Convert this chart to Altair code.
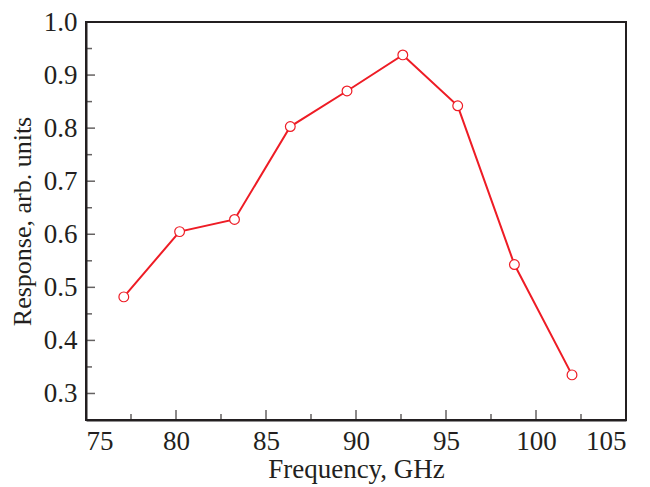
import altair as alt
import pandas as pd

freq = [77.1, 80.2, 83.25, 86.35, 89.5, 92.6, 95.65, 98.8, 102.0]
resp = [0.482, 0.605, 0.628, 0.803, 0.870, 0.938, 0.842, 0.543, 0.335]

x_major = [75, 80, 85, 90, 95, 100, 105]
x_minor = [77.5, 82.5, 87.5, 92.5, 97.5, 102.5]
y_major = [0.3, 0.4, 0.5, 0.6, 0.7, 0.8, 0.9, 1.0]
y_minor = [0.35, 0.45, 0.55, 0.65, 0.75, 0.85, 0.95]

RED = "#ee1c25"
INK = "#231f20"
FONT = "Liberation Serif"
FS = 27

df = pd.DataFrame({"f": freq, "r": resp})

xs = alt.Scale(domain=[75, 105], nice=False, zero=False)
ys = alt.Scale(domain=[0.25, 1.0], nice=False, zero=False)

xaxis = alt.Axis(values=x_major, format="d", ticks=False, tickSize=0, grid=False,
                 labelPadding=8, title="Frequency, GHz", titlePadding=2,
                 labelFontSize=FS, titleFontSize=FS)
yaxis = alt.Axis(values=y_major, format=".1f", ticks=False, tickSize=0, grid=False,
                 labelPadding=9, title="Response, arb. units", titlePadding=8,
                 labelFontSize=FS, titleFontSize=26)

line = alt.Chart(df).mark_line(color=RED, strokeWidth=2).encode(
    x=alt.X("f:Q", scale=xs, axis=xaxis),
    y=alt.Y("r:Q", scale=ys, axis=yaxis),
)
pts = alt.Chart(df).mark_point(shape="circle", filled=True, fill="white", stroke=RED,
                               strokeWidth=1.2, size=95, opacity=1).encode(
    x=alt.X("f:Q", scale=xs), y=alt.Y("r:Q", scale=ys)
)

xmaj = alt.Chart(pd.DataFrame({"t": x_major})).mark_tick(
    orient="vertical", size=20, thickness=1.5, color=INK, clip=True).encode(
    x=alt.X("t:Q", scale=xs), y=alt.datum(0.25, scale=ys))
xmin = alt.Chart(pd.DataFrame({"t": x_minor})).mark_tick(
    orient="vertical", size=12, thickness=1.5, color=INK, clip=True).encode(
    x=alt.X("t:Q", scale=xs), y=alt.datum(0.25, scale=ys))
ymaj = alt.Chart(pd.DataFrame({"t": y_major})).mark_tick(
    orient="horizontal", size=18, thickness=1.5, color=INK, clip=True).encode(
    y=alt.Y("t:Q", scale=ys), x=alt.datum(75, scale=xs))
ymin = alt.Chart(pd.DataFrame({"t": y_minor})).mark_tick(
    orient="horizontal", size=12, thickness=1.5, color=INK, clip=True).encode(
    y=alt.Y("t:Q", scale=ys), x=alt.datum(75, scale=xs))

chart = alt.layer(xmaj, xmin, ymaj, ymin, line, pts).properties(
    width=540, height=398,
    autosize=alt.AutoSizeParams(type="none"),
    padding={"left": 78, "top": 14, "right": 8, "bottom": 66},
).configure_view(stroke=INK, strokeWidth=2).configure_axis(
    domainColor=INK, domainWidth=2,
    labelFont=FONT, labelFontSize=FS, labelColor=INK,
    titleFont=FONT, titleFontSize=FS, titleColor=INK, titleFontWeight="normal",
)

chart.save("out.html", embed_options={"renderer": "svg", "actions": False})
